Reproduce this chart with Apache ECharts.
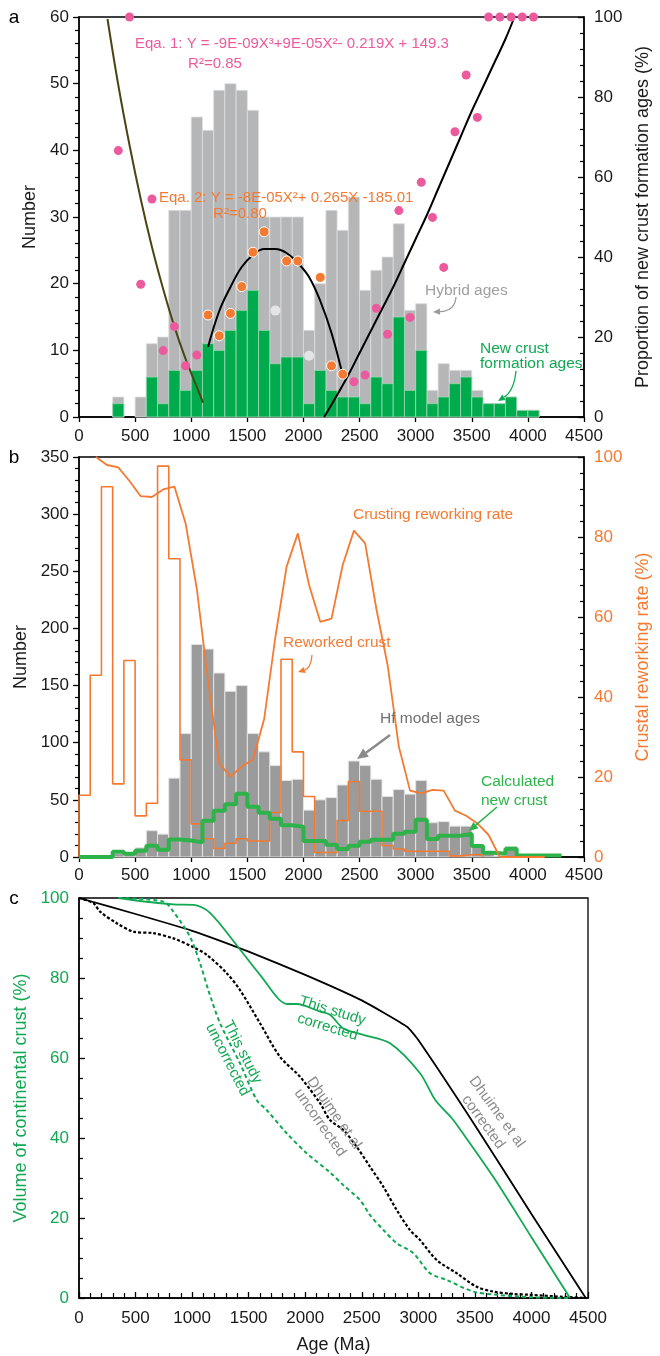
<!DOCTYPE html>
<html><head><meta charset="utf-8">
<script src="https://cdn.jsdelivr.net/npm/echarts/dist/echarts.min.js"></script>
<style>html,body{margin:0;padding:0;background:#fff}#c{width:660px;height:1356px}</style>
</head><body><div id="c"></div>
<script>
// ---------------- DATA ----------------
const binWidth = 100;
// Panel a: histogram bins (start ages, Ma)
const aBins = [300,400,500,600,700,800,900,1000,1100,1200,1300,1400,1500,1600,1700,1800,1900,2000,2100,2200,2300,2400,2500,2600,2700,2800,2900,3000,3100,3200,3300,3400,3500,3600,3700,3800,3900,4000];
const hybridAges   = [3,0,3,11,12,31,31,45,43,49,50,49,46,30,30,30,30,13,20,31,28,33,19,22,24,29,16,17,4,8,7,7,4,2,2,3,1,1];
const newCrustAges = [2,0,0,6,2,7,4,7,11,10,13,16,19,13,8,9,9,2,7,4,3,3,2,6,5,15,4,10,2,3,5,6,3,2,2,3,1,1];
// Panel a: proportion points (%)
const pinkAges = [350,450,550,650,750,850,950,1050,2450,2550,2650,2750,2850,2950,3050,3150,3250,3350,3450,3550,3650,3750,3850,3950,4050];
const pinkProp = [66.6,100,33.2,54.5,16.6,22.6,12.8,15.5,8.8,10.5,27.2,20.7,51.6,24.9,58.7,49.9,37.4,71.3,85.5,74.9,100,100,100,100,100];
const orangeAges = [1150,1250,1350,1450,1550,1650,1850,1950,2150,2250,2350];
const orangeProp = [25.5,20.3,25.9,32.6,41.2,46.3,39,39,34.9,12.8,10.7];
const greyDotAges = [1750,2050];
const greyDotProp = [26.6,15.3];
// Panel a: fitted curves
const eq1LeftAges = [254,350,450,550,650,750,850,950,1050,1105];
const eq1LeftProp = [99.5,83,68,54.5,42.5,32,22.6,14.5,7.5,3.6];
const eq1RightAges = [2185,2300,2400,2500,2600,2700,2800,2900,3000,3100,3200,3300,3400,3500,3600,3700,3800,3880];
const eq1RightProp = [0,5.5,10.5,16,21.5,27,32.5,38.5,44.5,50.5,57,63.5,70,76.5,82.5,88.5,94.5,100];
const eq2Ages = [1150,1250,1350,1450,1550,1650,1750,1850,1950,2050,2150,2250,2345];
const eq2Prop = [17.5,26.5,32.5,37.5,40.5,42,42,41,38.5,35,29,21,11];

// Panel b
const hfBins = [300,400,500,600,700,800,900,1000,1100,1200,1300,1400,1500,1600,1700,1800,1900,2000,2100,2200,2300,2400,2500,2600,2700,2800,2900,3000,3100,3200,3300,3400,3500,3600,3700,3800];
const hfModelAges = [3,3,8,23,20,69,108,186,182,161,145,150,108,92,80,67,68,41,50,52,63,84,80,68,53,59,55,67,30,31,27,27,11,4,1,9];
const calcBins = [0,100,200,300,400,500,600,700,800,900,1000,1100,1200,1300,1400,1500,1600,1700,1800,1900,2000,2100,2200,2300,2400,2500,2600,2700,2800,2900,3000,3100,3200,3300,3400,3500,3600,3700,3800,3900,4000,4100,4200];
const calcNewCrust = [0,0,0,4.7,2.9,5.5,9.9,6.4,15.4,14.5,12.8,31.8,40.5,46.1,55.4,44,38.8,33.5,27.7,26.5,14,14,10.8,7,9.9,13.4,15.2,15.2,20.4,22.2,32.7,15.8,18.7,18.7,20.4,9.6,3.8,2.9,7.3,1.4,1.4,1.4,1.4];
const reworkBins = [0,100,200,300,400,500,600,700,800,900,1000,1100,1200,1300,1400,1500,1600,1700,1800,1900,2000,2100,2200,2300,2400,2500,2600,2700,2800,2900,3000,3100,3200,3300,3400,3500];
const reworkedCrust = [54,159,324,64,172,36,47,342,261,85,29,16,7.5,12,16,14,14,39,173,92,53,4,4,32,66,40,40,10,7,5,5,5,5,1,2,2];
const rateAges = [150,250,350,450,550,650,750,850,950,1050,1150,1250,1350,1450,1550,1650,1750,1850,1950,2050,2150,2250,2350,2450,2550,2650,2750,2850,2950,3050,3150,3250,3350,3450,3550,3650,3750,4150];
const rateValues = [100,98,97.4,94,90.2,90,91.9,92.6,83.4,67,44,23.4,20.1,22.6,24.4,34.5,55,72.6,80.9,68,58.8,59.6,73,81.6,78.4,62,48,27.6,16.6,15.9,16.8,16.6,11.6,10.3,8.4,5.5,0,0];

// Panel c
const dcAges = [0,500,1000,1500,2000,2500,2900,3000,3500,4000,4480];
const dcVol  = [100,96,91.8,86.6,80.8,74.4,67.8,64.5,43.2,21,0];
const duAges = [0,127,186,333,480,657,834,1011,1129,1306,1423,1600,1777,1954,2131,2219,2337,2455,2573,2691,2809,2926,3015,3162,3339,3516,3663,3840,3987,4282,4480];
const duVol  = [100,98.7,96.6,93.7,91.6,91.2,89.9,87.7,85.8,81.2,77,68.7,60.3,55.3,48.7,44.5,42,37.8,32.8,27.8,22,17,14.5,9.5,6.2,2.8,1.6,1,0.8,0.3,0];
const tcAges = [348,834,1011,1158,1408,1600,1842,1925,2131,2219,2337,2514,2750,3015,3150,3295,3353,3662,4000,4341];
const tcVol  = [100,98.4,98.3,96.3,87.7,80.8,73.5,73.5,71.6,70.8,67.4,65.8,63.7,56.2,49.5,45,42.8,30.3,15.2,0];
const tuAges = [348,745,834,981,1070,1143,1247,1423,1571,1659,1836,2013,2219,2337,2484,2573,2691,2809,2956,3103,3251,3486,3693,3987,4350];
const tuVol  = [100,99.1,96.6,90.3,83.7,77,68.7,58.7,49.5,47,41.2,36.2,31.4,28.2,24.5,20.7,17,13.7,11.2,6.2,4.5,1.6,0.8,0.2,0];

// ---------------- BUILD ----------------
const F = '"Liberation Sans", Arial, Helvetica, sans-serif';
const PINK = '#ec5a9e', ORANGE = '#f47a32', GREEN = '#12a853', GREY_TXT = '#8c8c8c';
const plain = v => String(v);
const pairs = (xs, ys) => xs.map((x, i) => [x, ys[i]]);
const bars = (starts, vals) => starts.map((s, i) => [s, s + binWidth, vals[i]]);
function stepData(starts, vals, lead, tail) {
  const d = [];
  if (lead) d.push([starts[0], 0]);
  starts.forEach((s, i) => d.push([s, vals[i]]));
  const last = starts[starts.length - 1] + binWidth;
  d.push([last, vals[vals.length - 1]]);
  if (tail) d.push([last, 0]);
  return d;
}
function barRender(fill, stroke, lw) {
  return function (params, api) {
    const v = api.value(2);
    if (!v) return null;
    const a = api.coord([api.value(0), v]);
    const b = api.coord([api.value(1), 0]);
    return { type: 'rect', shape: { x: a[0], y: a[1], width: b[0] - a[0], height: b[1] - a[1] },
      style: { fill: fill, stroke: stroke, lineWidth: lw } };
  };
}
function xAx(gi, margin, extra) {
  return Object.assign({
    gridIndex: gi, type: 'value', min: 0, max: 4500, interval: 500,
    axisLine: { show: true, onZero: false, lineStyle: { color: '#000', width: 1.5 } },
    axisTick: { show: true, length: 5, lineStyle: { color: '#000', width: 1.3 } },
    axisLabel: { fontSize: 17, color: '#1a1a1a', fontFamily: F, margin: margin, formatter: plain, showMinLabel: true, showMaxLabel: true },
    splitLine: { show: false }
  }, extra || {});
}
function yAx(gi, pos, max, interval, split, labelColor, name, nameColor, nameGap, inside) {
  return {
    gridIndex: gi, type: 'value', position: pos, min: 0, max: max, interval: interval,
    axisLine: { show: true, onZero: false, lineStyle: { color: '#000', width: 1.5 } },
    axisTick: { show: true, inside: inside, length: 6, lineStyle: { color: '#000', width: 1.3 } },
    minorTick: { show: true, splitNumber: split, length: 4, lineStyle: { color: '#000', width: 1.2 } },
    axisLabel: { fontSize: 17, color: labelColor, fontFamily: F, margin: 10, formatter: plain, showMinLabel: true, showMaxLabel: true },
    splitLine: { show: false }, minorSplitLine: { show: false },
    name: name, nameLocation: 'middle', nameRotate: 90, nameGap: nameGap,
    nameTextStyle: { fontSize: 18, color: nameColor, fontFamily: F }
  };
}
const lineS = (xi, yi, data, color, width, smooth, type, z) => ({
  type: 'line', xAxisIndex: xi, yAxisIndex: yi, data: data, showSymbol: false, symbol: 'none',
  smooth: smooth, lineStyle: { color: color, width: width, type: type || 'solid' }, z: z || 3, clip: false, silent: true
});

function txt(text, x, y, color, size, align, rot, lh) {
  return { type: 'text', x: x, y: y, rotation: rot ? -rot * Math.PI / 180 : 0, z: 100,
    style: { text: text, x: 0, y: 0, fill: color, fontSize: size, fontFamily: F,
      align: align || 'left', verticalAlign: 'middle', lineHeight: lh || size * 1.15 } };
}
function arrow(p0, c, p1, color, lw, head) {
  const ang = Math.atan2(p1[1] - c[1], p1[0] - c[0]);
  const bx = p1[0] - head * Math.cos(ang), by = p1[1] - head * Math.sin(ang);
  const w = head * 0.45;
  const l = [bx + w * Math.sin(ang), by - w * Math.cos(ang)];
  const r = [bx - w * Math.sin(ang), by + w * Math.cos(ang)];
  return [
    { type: 'bezierCurve', z: 100, shape: { x1: p0[0], y1: p0[1], x2: bx, y2: by, cpx1: c[0], cpy1: c[1] },
      style: { stroke: color, lineWidth: lw, fill: null } },
    { type: 'polygon', z: 100, shape: { points: [p1, l, r] }, style: { fill: color } }
  ];
}

const graphics = [
  txt('a', 14, 18, '#000', 19, 'center'),
  txt('b', 14, 458, '#000', 19, 'center'),
  txt('c', 14, 899, '#000', 19, 'center'),
  txt('Eqa. 1: Y = -9E-09X³+9E-05X²- 0.219X + 149.3', 135, 44, PINK, 15),
  txt('R²=0.85', 215, 64, PINK, 15, 'center'),
  txt('Eqa. 2: Y = -8E-05X²+ 0.265X -185.01', 159, 198, ORANGE, 15),
  txt('R²=0.80', 240, 214, ORANGE, 15, 'center'),
  txt('Hybrid ages', 425, 291, '#a0a0a0', 15.5),
  txt('New crust', 480, 349, GREEN, 15.5),
  txt('formation ages', 480, 364, GREEN, 15.5),
  txt('Crusting reworking rate', 353, 515, ORANGE, 15.5),
  txt('Reworked crust', 283, 643, ORANGE, 15.5),
  txt('Hf model ages', 380, 719, '#707070', 15.5),
  txt('Calculated', 481, 782, '#2db34a', 15.5),
  txt('new crust', 481, 801, '#2db34a', 15.5),
  txt('This study\ncorrected', 330, 1019, GREEN, 15, 'center', 17, 17),
  txt('This study\nuncorrected', 235, 1056, GREEN, 15, 'center', 63, 17),
  txt('Dhuime et al\nuncorrected', 327, 1118, GREY_TXT, 15, 'center', 55, 17),
  txt('Dhuime et al\ncorrected', 490, 1117, GREY_TXT, 15, 'center', 54, 17)
].concat(
  arrow([456, 297], [455, 311], [433, 312], '#9a9a9a', 1.3, 7),
  arrow([516, 371], [514, 391], [498, 401], GREEN, 1.3, 7),
  arrow([312, 655], [311, 668], [298, 672], ORANGE, 1.3, 7),
  arrow([390, 735], [374, 747], [357, 759], '#8a8a8a', 2.5, 11),
  arrow([497, 807], [483, 819], [469, 831], '#2db34a', 1.6, 9)
);

const option = {
  animation: false,
  backgroundColor: '#fff',
  grid: [
    { left: 79, top: 17, width: 509, height: 400, show: true, borderColor: '#000', borderWidth: 1.3, backgroundColor: 'transparent' },
    { left: 79, top: 457, width: 509, height: 400, show: true, borderColor: '#000', borderWidth: 1.3, backgroundColor: 'transparent' },
    { left: 79, top: 898, width: 509, height: 400, show: true, borderColor: '#000', borderWidth: 1.3, backgroundColor: 'transparent' }
  ],
  xAxis: [
    xAx(0, 11),
    xAx(1, 10),
    xAx(2, 12, { axisTick: { show: true, inside: true, length: 6, lineStyle: { color: '#000', width: 1.3 } },
      minorTick: { show: true, splitNumber: 5, length: 5, lineStyle: { color: '#000', width: 1.2 } },
      name: 'Age (Ma)', nameLocation: 'middle', nameGap: 38, nameTextStyle: { fontSize: 18, color: '#1a1a1a', fontFamily: F } })
  ],
  yAxis: [
    yAx(0, 'left', 60, 10, 5, '#1a1a1a', 'Number', '#1a1a1a', 40, false),
    yAx(0, 'right', 100, 20, 5, '#1a1a1a', 'Proportion of new crust formation ages (%)', '#1a1a1a', 50, true),
    yAx(1, 'left', 350, 50, 5, '#1a1a1a', 'Number', '#1a1a1a', 46, false),
    yAx(1, 'right', 100, 20, 5, ORANGE, 'Crustal reworking rate (%)', ORANGE, 50, true),
    yAx(2, 'left', 100, 20, 4, GREEN, 'Volume of continental crust (%)', GREEN, 48, true)
  ],
  graphic: graphics,
  series: [
    { type: 'custom', xAxisIndex: 0, yAxisIndex: 0, data: bars(aBins, hybridAges), encode: { x: [0, 1], y: 2 },
      renderItem: barRender('#b5b6b8', '#dedede', 0.8), z: 1, silent: true },
    { type: 'custom', xAxisIndex: 0, yAxisIndex: 0, data: bars(aBins, newCrustAges), encode: { x: [0, 1], y: 2 },
      renderItem: barRender('#00ab4e', '#9fd9b4', 0.8), z: 2, silent: true },
    lineS(0, 1, pairs(eq1LeftAges, eq1LeftProp), '#4a4512', 2, 0.4),
    lineS(0, 1, pairs(eq1RightAges, eq1RightProp), '#000', 2, 0.4),
    lineS(0, 1, pairs(eq2Ages, eq2Prop), '#000', 2, 0.4),
    { type: 'scatter', xAxisIndex: 0, yAxisIndex: 1, data: pairs(pinkAges, pinkProp), symbolSize: 9, clip: false,
      itemStyle: { color: PINK, opacity: 1 }, z: 5, silent: true },
    { type: 'scatter', xAxisIndex: 0, yAxisIndex: 1, data: pairs(orangeAges, orangeProp), symbolSize: 10, clip: false,
      itemStyle: { color: ORANGE, borderColor: '#fff', borderWidth: 1, opacity: 1 }, z: 5, silent: true },
    { type: 'scatter', xAxisIndex: 0, yAxisIndex: 1, data: pairs(greyDotAges, greyDotProp), symbolSize: 10, clip: false,
      itemStyle: { color: '#e4e4e4', opacity: 1 }, z: 5, silent: true },

    { type: 'custom', xAxisIndex: 1, yAxisIndex: 2, data: bars(hfBins, hfModelAges), encode: { x: [0, 1], y: 2 },
      renderItem: barRender('#9b9b9b', '#e3e3e3', 1), z: 1, silent: true },
    Object.assign(lineS(1, 2, stepData(reworkBins, reworkedCrust, true, true), ORANGE, 1.6, false), { step: 'end', z: 3 }),
    Object.assign(lineS(1, 2, stepData(calcBins, calcNewCrust, false, false), '#2db34a', 4, false), { step: 'end', z: 4 }),
    lineS(1, 3, pairs(rateAges, rateValues), ORANGE, 1.8, false, 'solid', 5),

    lineS(2, 4, pairs(dcAges, dcVol), '#000', 1.8, 0.15),
    lineS(2, 4, pairs(duAges, duVol), '#000', 2.2, 0.3, [3, 2]),
    lineS(2, 4, pairs(tcAges, tcVol), GREEN, 1.8, 0.3),
    lineS(2, 4, pairs(tuAges, tuVol), GREEN, 2, 0.3, [4, 3])
  ]
};
const chart = echarts.init(document.getElementById('c'));
chart.setOption(option);
</script>
</body></html>
